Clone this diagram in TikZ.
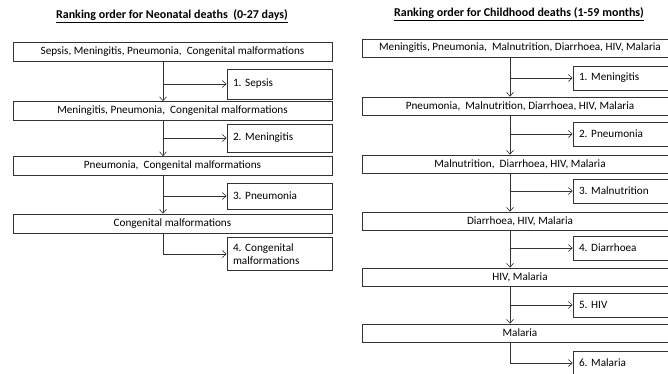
\documentclass[tikz,border=0pt]{standalone}
\usepackage{fontspec}
\setmainfont{Carlito}
\frenchspacing
\usetikzlibrary{arrows.meta}
\tikzset{
  causebox/.style={draw=black!80, line width=0.6pt, minimum height=19pt, inner sep=0pt, font=\fontsize{11.2}{13}\selectfont},
  rankbox/.style={draw=black!80, line width=0.6pt, minimum width=105pt, inner sep=6pt, text width=93pt, align=left, font=\fontsize{11.2}{13}\selectfont},
  conn/.style={draw=black!80, line width=0.6pt, -{Straight Barb[length=4pt,width=7pt,line width=0.6pt]}},
  heading/.style={font=\bfseries\fontsize{12}{14}\selectfont}
}
\begin{document}
\begin{tikzpicture}[x=1pt,y=-1pt]
            \useasboundingbox (0,0) rectangle (668,373);
            \clip (0,0) rectangle (668,373);

            %neonatal deaths
            \node[heading] (tl) at (172,16) {\underline{Ranking order for Neonatal deaths~ (0-27 days)}};
            \coordinate (lv) at (163,0);

            \node[causebox, minimum width=319pt] (ln1) at (172.5,52) {Sepsis, Meningitis, Pneumonia,~ Congenital malformations};
            \node[causebox, minimum width=319pt] (ln2) at (172.5,111) {Meningitis, Pneumonia,~ Congenital malformations};
            \node[causebox, minimum width=319pt] (ln3) at (172.5,166) {Pneumonia,~ Congenital malformations};
            \node[causebox, minimum width=319pt] (ln4) at (172.5,223.5) {Congenital malformations};

            \node[rankbox, minimum height=30pt] (lr1) at (279.5,84) {1. Sepsis};
            \node[rankbox, minimum height=28pt] (lr2) at (279.5,138) {2. Meningitis};
            \node[rankbox, minimum height=26pt] (lr3) at (279.5,196) {3. Pneumonia};
            \node[rankbox, minimum height=32pt] (lr4) at (279.5,254) {4. Congenital\\malformations};

            \draw[conn] (ln1.south -| lv) -- (ln2.north -| lv);
            \draw[conn] (ln2.south -| lv) -- (ln3.north -| lv);
            \draw[conn] (ln3.south -| lv) -- (ln4.north -| lv);
            \draw[conn] (lr1.west -| lv) -- (lr1.west);
            \draw[conn] (lr2.west -| lv) -- (lr2.west);
            \draw[conn] (lr3.west -| lv) -- (lr3.west);
            \draw[conn] (ln4.south -| lv) |- (lr4.west);

            %childhood deaths
            \node[heading] (tr) at (519,14) {\underline{Ranking order for Childhood deaths (1-59 months)}};
            \coordinate (rv) at (510,0);

            \node[causebox, minimum width=316pt, minimum height=18pt] (rn1) at (520,48) {Meningitis, Pneumonia,~ Malnutrition, Diarrhoea, HIV, Malaria};
            \node[causebox, minimum width=316pt, minimum height=18pt] (rn2) at (520,106) {Pneumonia,~ Malnutrition, Diarrhoea, HIV, Malaria};
            \node[causebox, minimum width=316pt, minimum height=18pt] (rn3) at (520,164) {Malnutrition,~ Diarrhoea, HIV, Malaria};
            \node[causebox, minimum width=316pt, minimum height=18pt] (rn4) at (520,221) {Diarrhoea, HIV, Malaria};
            \node[causebox, minimum width=316pt, minimum height=18pt] (rn5) at (520,277) {HIV, Malaria};
            \node[causebox, minimum width=316pt, minimum height=18pt] (rn6) at (520,333) {Malaria};

            \node[rankbox, minimum height=24pt] (rr1) at (625.5,78) {1. Meningitis};
            \node[rankbox, minimum height=24pt] (rr2) at (625.5,134) {2. Pneumonia};
            \node[rankbox, minimum height=24pt] (rr3) at (625.5,191) {3. Malnutrition};
            \node[rankbox, minimum height=24pt] (rr4) at (625.5,248) {4. Diarrhoea};
            \node[rankbox, minimum height=24pt] (rr5) at (625.5,305) {5. HIV};
            \node[rankbox, minimum height=24pt] (rr6) at (625.5,363) {6. Malaria};

            \draw[conn] (rn1.south -| rv) -- (rn2.north -| rv);
            \draw[conn] (rn2.south -| rv) -- (rn3.north -| rv);
            \draw[conn] (rn3.south -| rv) -- (rn4.north -| rv);
            \draw[conn] (rn4.south -| rv) -- (rn5.north -| rv);
            \draw[conn] (rn5.south -| rv) -- (rn6.north -| rv);
            \draw[conn] (rr1.west -| rv) -- (rr1.west);
            \draw[conn] (rr2.west -| rv) -- (rr2.west);
            \draw[conn] (rr3.west -| rv) -- (rr3.west);
            \draw[conn] (rr4.west -| rv) -- (rr4.west);
            \draw[conn] (rr5.west -| rv) -- (rr5.west);
            \draw[conn] (rn6.south -| rv) |- (rr6.west);

        \end{tikzpicture}
\end{document}
